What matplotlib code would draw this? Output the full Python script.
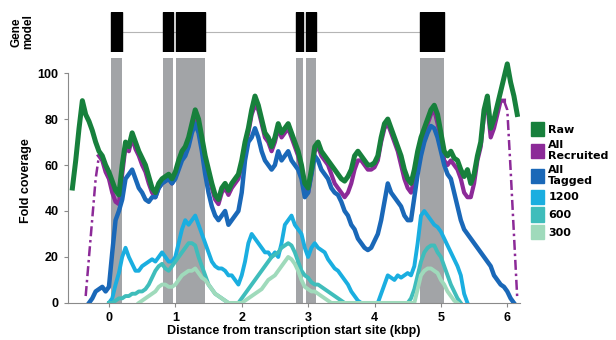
import matplotlib
matplotlib.use('Agg')
import matplotlib.pyplot as plt
from matplotlib.patches import Patch

# positions along the gene (kbp from TSS), sampled every 0.05 kbp
kbp = [-0.55, -0.50, -0.45, -0.40, -0.35, -0.30, -0.25, -0.20, -0.15, -0.10,
       -0.05, 0.00, 0.05, 0.10, 0.15, 0.20, 0.25, 0.30, 0.35, 0.40,
       0.45, 0.50, 0.55, 0.60, 0.65, 0.70, 0.75, 0.80, 0.85, 0.90,
       0.95, 1.00, 1.05, 1.10, 1.15, 1.20, 1.25, 1.30, 1.35, 1.40,
       1.45, 1.50, 1.55, 1.60, 1.65, 1.70, 1.75, 1.80, 1.85, 1.90,
       1.95, 2.00, 2.05, 2.10, 2.15, 2.20, 2.25, 2.30, 2.35, 2.40,
       2.45, 2.50, 2.55, 2.60, 2.65, 2.70, 2.75, 2.80, 2.85, 2.90,
       2.95, 3.00, 3.05, 3.10, 3.15, 3.20, 3.25, 3.30, 3.35, 3.40,
       3.45, 3.50, 3.55, 3.60, 3.65, 3.70, 3.75, 3.80, 3.85, 3.90,
       3.95, 4.00, 4.05, 4.10, 4.15, 4.20, 4.25, 4.30, 4.35, 4.40,
       4.45, 4.50, 4.55, 4.60, 4.65, 4.70, 4.75, 4.80, 4.85, 4.90,
       4.95, 5.00, 5.05, 5.10, 5.15, 5.20, 5.25, 5.30, 5.35, 5.40,
       5.45, 5.50, 5.55, 5.60, 5.65, 5.70, 5.75, 5.80, 5.85, 5.90,
       5.95, 6.00, 6.05, 6.10, 6.15]

N = None
raw = [50, 62, 76, 88, 82, 79, 75, 70, 66, 64,
       60, 57, 53, 49, 47, 60, 70, 68, 74, 70,
       66, 63, 60, 55, 50, 48, 52, 54, 55, 56,
       54, 57, 62, 66, 68, 72, 78, 84, 80, 72,
       64, 58, 52, 47, 45, 50, 52, 49, 52, 54,
       56, 62, 70, 76, 84, 90, 86, 80, 74, 72,
       68, 72, 78, 74, 76, 78, 74, 70, 66, 60,
       52, 50, 58, 68, 70, 66, 64, 62, 60, 58,
       56, 54, 53, 55, 58, 64, 66, 64, 62, 60,
       60, 61, 64, 72, 78, 80, 76, 72, 68, 64,
       58, 54, 52, 58, 66, 72, 76, 80, 84, 86,
       82, 74, 66, 64, 66, 63, 62, 58, 55, 58,
       52, 56, 64, 70, 84, 90, 76, 80, 86, 92,
       98, 104, 96, 90, 82]
all_recruited = [N, N, N, N, 3, 20, 37, 54, 64, 62,
                 57, 54, 48, 44, 43, 56, 68, 66, 72, 67,
                 64, 60, 57, 52, 48, 46, 50, 52, 53, 54,
                 52, 55, 60, 64, 66, 70, 76, 82, 78, 70,
                 62, 56, 50, 45, 43, 48, 50, 47, 50, 52,
                 54, 60, 68, 74, 82, 86, 84, 78, 72, 70,
                 66, 70, 76, 72, 74, 76, 72, 68, 64, 58,
                 50, 48, 56, 66, 68, 64, 62, 60, 56, 52,
                 50, 48, 46, 48, 52, 58, 62, 62, 60, 58,
                 58, 59, 62, 70, 76, 78, 74, 70, 66, 60,
                 54, 50, 48, 54, 62, 70, 74, 78, 82, 84,
                 78, 72, 62, 60, 62, 60, 58, 54, 48, 46,
                 46, 52, 62, 68, 82, 86, 72, 76, 82, 88,
                 88, 84, 58, 30, 2]
all_tagged = [N, N, N, N, N, 0, 2, 5, 6, 7,
              5, 7, 22, 36, 40, 45, 54, 56, 58, 54,
              50, 48, 45, 44, 46, 46, 50, 52, 53, 54,
              52, 54, 58, 62, 64, 68, 74, 78, 74, 66,
              56, 48, 42, 38, 36, 38, 40, 34, 36, 38,
              40, 48, 62, 70, 72, 76, 72, 66, 62, 60,
              58, 60, 66, 62, 64, 66, 62, 60, 58, 54,
              46, 48, 56, 64, 62, 58, 56, 54, 50, 48,
              47, 44, 40, 38, 34, 32, 28, 26, 24, 23,
              24, 27, 30, 36, 44, 52, 48, 46, 44, 42,
              38, 36, 36, 46, 56, 64, 70, 74, 77, 76,
              72, 66, 60, 56, 54, 48, 42, 36, 32, 30,
              28, 26, 24, 22, 20, 18, 16, 12, 10, 8,
              7, 5, 2, 0, N]
t1200 = [N, N, N, N, N, N, N, N, N, N,
         N, 0, 2, 8, 13, 20, 24, 20, 17, 14,
         14, 16, 17, 18, 19, 18, 20, 22, 20, 18,
         18, 20, 26, 32, 36, 34, 36, 38, 34, 30,
         26, 22, 18, 16, 15, 15, 14, 12, 12, 10,
         8, 12, 18, 26, 30, 28, 26, 24, 22, 22,
         20, 22, 20, 26, 34, 36, 38, 34, 32, 30,
         24, 20, 24, 26, 24, 23, 22, 19, 17, 15,
         14, 12, 10, 8, 5, 3, 1, 0, 0, 0,
         0, 0, 0, 4, 8, 12, 11, 10, 12, 11,
         12, 13, 12, 16, 26, 38, 40, 38, 36, 34,
         33, 31, 28, 25, 22, 19, 16, 12, 4, 0,
         N, N, N, N, N, N, N, N, N, N,
         N, N, N, N, N]
t600 = [N, N, N, N, N, N, N, N, N, N,
        N, 0, 0, 1, 2, 2, 3, 3, 4, 4,
        5, 5, 6, 8, 11, 14, 16, 17, 15, 14,
        16, 18, 20, 22, 24, 26, 26, 25, 20, 16,
        12, 8, 6, 4, 3, 2, 1, 0, 0, 0,
        0, 2, 4, 6, 8, 10, 12, 14, 16, 18,
        20, 21, 22, 24, 25, 26, 25, 22, 18, 14,
        12, 11, 9, 8, 8, 7, 6, 5, 4, 3,
        2, 1, 0, N, N, N, N, N, N, N,
        N, N, N, N, N, N, N, N, N, N,
        N, 0, 2, 6, 12, 18, 22, 24, 25, 25,
        22, 20, 16, 12, 8, 5, 2, 0, N, N,
        N, N, N, N, N, N, N, N, N, N,
        N, N, N, N, N]
t300 = [N, N, N, N, N, N, N, N, N, N,
        N, N, N, N, N, N, N, N, N, N,
        0, 1, 2, 3, 4, 5, 7, 8, 8, 7,
        7, 8, 10, 12, 13, 14, 14, 15, 13, 11,
        10, 8, 6, 4, 3, 2, 1, 0, 0, 0,
        0, 0, 1, 2, 3, 4, 5, 6, 8, 10,
        11, 12, 14, 16, 18, 20, 19, 17, 14, 10,
        7, 6, 5, 5, 4, 3, 2, 1, 0, N,
        N, N, N, N, N, N, N, N, N, N,
        N, N, N, N, N, N, N, N, N, N,
        N, N, N, 0, 6, 12, 14, 15, 15, 14,
        13, 10, 8, 5, 3, 1, 0, N, N, N,
        N, N, N, N, N, N, N, N, N, N,
        N, N, N, N, N]

exon_start = [0.03, 0.81, 1.01, 2.82, 2.97, 4.69]
exon_end = [0.20, 0.97, 1.45, 2.93, 3.12, 5.05]

series = [('1200', t1200, '#1aaee0'),
          ('600', t600, '#3fbdbb'),
          ('300', t300, '#9fdabb')]
c_raw, c_rec, c_tag = '#17803c', '#8c2a98', '#1a68b8'


def clean(xs, ys):
    pts = [(x, y) for x, y in zip(xs, ys) if y is not None]
    return [p[0] for p in pts], [p[1] for p in pts]


fig = plt.figure(figsize=(6.16, 3.40), dpi=100)
plt.rcParams['font.family'] = ['Liberation Sans', 'DejaVu Sans']
plt.rcParams['font.weight'] = 'bold'

xlim = (-0.62, 6.19)
ax = fig.add_axes([0.110, 0.109, 0.734, 0.720])
gm = fig.add_axes([0.110, 0.847, 0.734, 0.118])

# gene model
gm.plot([exon_end[0], exon_start[-1]], [0.5, 0.5], color='#b5b5b5', lw=0.8, zorder=1)
for s, e in zip(exon_start, exon_end):
    gm.axvspan(s, e, color='black', zorder=2)
gm.set_xlim(*xlim)
gm.set_ylim(0, 1)
gm.axis('off')
fig.text(0.036, 0.906, 'Gene\nmodel', rotation=90, ha='center', va='center',
         multialignment='center', fontsize=8.5, fontweight='bold', linespacing=1.0)

# exon bands
for s, e in zip(exon_start, exon_end):
    ax.axvspan(s, e, color='#a2a4a7', lw=0, zorder=0)

x, y = clean(kbp, all_recruited)
ax.plot(x[:5], y[:5], color=c_rec, lw=1.8, ls=(0, (4, 1.5, 1, 1.5)), zorder=2)
ax.plot(x[4:-4], y[4:-4], color=c_rec, lw=3, zorder=2)
ax.plot(x[-5:], y[-5:], color=c_rec, lw=1.8, ls=(0, (4, 1.5, 1, 1.5)), zorder=2)
x, y = clean(kbp, all_tagged)
ax.plot(x, y, color=c_tag, lw=3.2, zorder=3)
for name, vals, col in series:
    x, y = clean(kbp, vals)
    ax.plot(x, y, color=col, lw=2.8, zorder=4)
x, y = clean(kbp, raw)
ax.plot(x, y, color=c_raw, lw=3.6, zorder=5)

ax.set_xlim(*xlim)
ax.set_ylim(0, 106.5)
ax.set_yticks([0, 20, 40, 60, 80, 100])
ax.set_xticks([0, 1, 2, 3, 4, 5, 6])
ax.spines['top'].set_visible(False)
ax.spines['right'].set_visible(False)
ax.spines['left'].set_bounds(0, 100)
for sp in ('left', 'bottom'):
    ax.spines[sp].set_color('#8a8a8a')
    ax.spines[sp].set_linewidth(0.8)
ax.tick_params(colors='#8a8a8a', labelcolor='black', labelsize=9, length=3, width=0.8)
for lab in ax.get_xticklabels() + ax.get_yticklabels():
    lab.set_fontweight('bold')
ax.set_ylabel('Fold coverage', fontsize=9, fontweight='bold')
ax.yaxis.set_label_coords(-0.078, 0.5)
ax.set_xlabel('Distance from transcription start site (kbp)', fontsize=9,
              fontweight='bold', labelpad=1)

handles = [Patch(color=c_raw), Patch(color=c_rec), Patch(color=c_tag)] + \
          [Patch(color=col) for _, _, col in series]
labels = ['Raw', 'All\nRecruited', 'All\nTagged'] + [n for n, _, _ in series]
fig.legend(handles, labels, loc='upper left', bbox_to_anchor=(0.845, 0.67),
           frameon=False, handlelength=1.2, handleheight=1.6, handletextpad=0.4,
           labelspacing=0.3, prop={'family': 'DejaVu Sans', 'weight': 'bold', 'size': 8})

fig.savefig('out.png', dpi=100)
